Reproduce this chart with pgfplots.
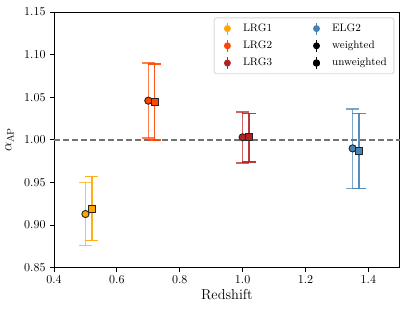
\documentclass[border=0pt]{standalone}
\usepackage{pgfplots}
\pgfplotsset{compat=1.18}
\definecolor{cA}{HTML}{FFA500}
\definecolor{cB}{HTML}{FF4500}
\definecolor{cC}{HTML}{B22222}
\definecolor{cD}{HTML}{4682B4}
\pgfplotsset{
  ebw/.style={only marks, forget plot, mark=*, mark size=3pt,
    mark options={fill=#1, draw=black!85, line width=0.8pt, opacity=1},
    error bars/.cd, y dir=both, y explicit, error mark=|,
    error bar style={#1, line width=1.3pt, opacity=0.7},
    error mark options={#1, line width=1.3pt, mark size=5.5pt, opacity=0.7}},
  ebu/.style={only marks, forget plot, mark=square*, mark size=3pt,
    mark options={fill=#1, draw=black!85, line width=0.8pt, opacity=1},
    error bars/.cd, y dir=both, y explicit, error mark=|,
    error bar style={#1, line width=1.3pt, opacity=0.9},
    error mark options={#1, line width=1.3pt, mark size=5.5pt, opacity=0.9}},
  lgimg/.style={legend image code/.code={
    \path[draw=none, fill=none] (0pt,-5pt) rectangle (18pt,5pt);
    \draw[##1, line width=1.4pt] (7pt,-5pt) -- (7pt,5pt);
    \fill[##1, draw=none] (7pt,0pt) circle (2.9pt);}},
  lgsq/.style={legend image code/.code={
    \path[draw=none, fill=none] (0pt,-5pt) rectangle (18pt,5pt);
    \draw[##1, line width=1.4pt] (7pt,-5pt) -- (7pt,5pt);
    \fill[##1, draw=none] (4.2pt,-2.8pt) rectangle (9.8pt,2.8pt);}},
}
\begin{document}
\begin{tikzpicture}
\path[use as bounding box] (-45pt,-37pt) rectangle (294pt,223pt);
\begin{axis}[
  scale only axis, width=288pt, height=213pt,
  xmin=0.4, xmax=1.5, ymin=0.85, ymax=1.15,
  xtick={0.4,0.6,0.8,1.0,1.2,1.4},
  ytick={0.85,0.90,0.95,1.00,1.05,1.10,1.15},
  xticklabel style={/pgf/number format/.cd, fixed, fixed zerofill, precision=1},
  yticklabel style={/pgf/number format/.cd, fixed, fixed zerofill, precision=2},
  tick align=outside, tick pos=left, major tick length=3.5pt,
  axis line style={line width=0.8pt}, tick style={line width=0.8pt, black},
  xlabel={\large Redshift}, ylabel={\large $\alpha_{\rm AP}$},
  xlabel style={yshift=2pt}, ylabel style={yshift=2pt},
  legend columns=2,
  legend style={at={(1,1)}, anchor=north east, xshift=-4.5pt, yshift=-4.5pt,
    rounded corners=2pt, draw=black!15, line width=0.8pt, font=\small,
    inner xsep=4pt, inner ysep=3pt,
    row sep=2.5pt, /tikz/every even column/.append style={column sep=28pt}},
  legend cell align=left,
]
\addplot[black!55, dashed, line width=1.2pt, forget plot, dash pattern=on 5pt off 2.5pt] coordinates {(0.4,1.0) (1.5,1.0)};

\addplot[ebw=cA] coordinates {(0.50,0.913) += (0,0.037) -= (0,0.037)};
\addplot[ebu=cA] coordinates {(0.52,0.919) += (0,0.038) -= (0,0.037)};
\addplot[ebw=cB] coordinates {(0.70,1.046) += (0,0.044) -= (0,0.044)};
\addplot[ebu=cB] coordinates {(0.72,1.044) += (0,0.045) -= (0,0.044)};
\addplot[ebw=cC] coordinates {(1.00,1.003) += (0,0.030) -= (0,0.030)};
\addplot[ebu=cC] coordinates {(1.02,1.003) += (0,0.028) -= (0,0.029)};
\addplot[ebw=cD] coordinates {(1.35,0.990) += (0,0.046) -= (0,0.047)};
\addplot[ebu=cD] coordinates {(1.37,0.987) += (0,0.044) -= (0,0.044)};

\addlegendimage{cA, lgimg}
\addlegendentry{LRG1}
\addlegendimage{cD, lgimg}
\addlegendentry{ELG2}
\addlegendimage{cB, lgimg}
\addlegendentry{LRG2}
\addlegendimage{black, lgimg}
\addlegendentry{weighted}
\addlegendimage{cC, lgimg}
\addlegendentry{LRG3}
\addlegendimage{black, lgsq}
\addlegendentry{unweighted}
\end{axis}
\end{tikzpicture}
\end{document}
